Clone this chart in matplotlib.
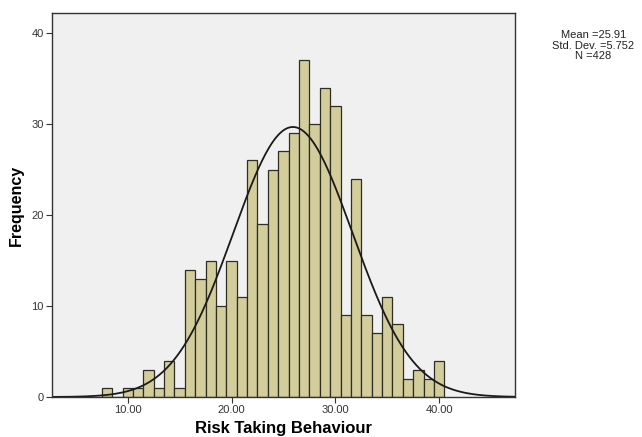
import numpy as np
import matplotlib
matplotlib.use('Agg')
import matplotlib.pyplot as plt

# Histogram counts (bin width 1, centred on integers)
bin_centers = [8, 9, 10, 11, 12, 13, 14, 15, 16, 17, 18, 19, 20, 21, 22, 23, 24,
               25, 26, 27, 28, 29, 30, 31, 32, 33, 34, 35, 36, 37, 38, 39, 40]
counts = [1, 0, 1, 1, 3, 1, 4, 1, 14, 13, 15, 10, 15, 11, 26, 19, 25,
          27, 29, 37, 30, 34, 32, 9, 24, 9, 7, 11, 8, 2, 3, 2, 4]
x_ticks = [10, 20, 30, 40]
y_ticks = [0, 10, 20, 30, 40]

mean = 25.91
std_dev = 5.752
n_obs = 428
bin_width = 1.0

plt.rcParams['font.family'] = ['Liberation Sans', 'DejaVu Sans']

fig = plt.figure(figsize=(6.42, 4.37), dpi=100)
ax = fig.add_axes([0.081, 0.0915, 0.721, 0.8785])
ax.set_facecolor('#f0f0f0')

ax.bar(bin_centers, counts, width=bin_width, color='#d3cd9c',
       edgecolor='#2e2e22', linewidth=0.9)

# fitted normal curve scaled to counts
xs = np.linspace(2.7, 47.3, 400)
ys = n_obs * bin_width / (std_dev * np.sqrt(2 * np.pi)) * np.exp(-0.5 * ((xs - mean) / std_dev) ** 2)
ax.plot(xs, ys, color='#1a1a1a', linewidth=1.3)

ax.set_xlim(2.7, 47.3)
ax.set_ylim(0, 42.2)
ax.set_xticks(x_ticks)
ax.set_xticklabels(['%.2f' % v for v in x_ticks])
ax.set_yticks(y_ticks)
ax.tick_params(labelsize=8, length=4, width=0.8, colors='#333333', pad=2)

for side in ['left', 'bottom', 'right', 'top']:
    ax.spines[side].set_color('#333333')
    ax.spines[side].set_linewidth(1.0)

ax.set_xlabel('Risk Taking Behaviour', fontsize=12, fontweight='bold', labelpad=4)
ax.set_ylabel('Frequency', fontsize=11.5, fontweight='bold', labelpad=5)

fig.text(0.924, 0.895, 'Mean =%.2f\nStd. Dev. =%.3f\nN =%d' % (mean, std_dev, n_obs),
         ha='center', va='center', fontsize=8, linespacing=1.05, color='#222222')

fig.savefig('out.png', dpi=100)
